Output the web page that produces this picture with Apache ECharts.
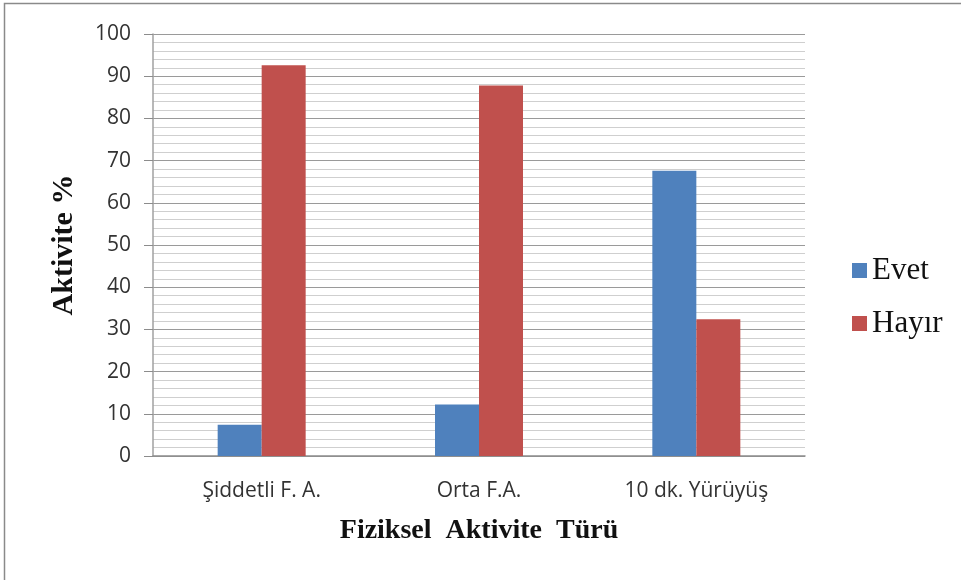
<!DOCTYPE html>
<html>
<head>
<meta charset="utf-8">
<script src="https://cdn.jsdelivr.net/npm/echarts@6/dist/echarts.min.js"></script>
<style>
  html, body { margin: 0; padding: 0; background: #fff; }
  #chart { width: 961px; height: 580px; }
</style>
</head>
<body>
<div id="chart"></div>
<script>
// Activity types and the share (%) answering yes / no
const categories = ['Şiddetli F. A.', 'Orta F.A.', '10 dk. Yürüyüş'];
const evetValues = [7.4, 12.2, 67.6];
const hayirValues = [92.6, 87.8, 32.4];
const yTicks = { min: 0, max: 100, interval: 10 };

const chart = echarts.init(document.getElementById('chart'), null, { renderer: 'canvas' });

const sansFont = '"Open Sans", "Liberation Sans", sans-serif';
const serifFont = '"Liberation Serif", "DejaVu Serif", serif';

chart.setOption({
  animation: false,
  backgroundColor: '#ffffff',
  graphic: [{
    type: 'rect',
    shape: { x: 4.5, y: 3.5, width: 1200, height: 1200 },
    style: { fill: 'none', stroke: '#8a8a8a', lineWidth: 1.5 },
    silent: true
  }],
  grid: { left: 153, right: 156, top: 34, bottom: 124, containLabel: false },
  legend: {
    orient: 'vertical',
    left: 847,
    top: 250,
    itemWidth: 15,
    itemHeight: 15,
    itemGap: 22,
    icon: 'rect',
    textStyle: { fontFamily: serifFont, fontSize: 31, color: '#111' },
    data: ['Evet', 'Hayır']
  },
  xAxis: {
    type: 'category',
    data: categories,
    name: 'Fiziksel  Aktivite  Türü',
    nameLocation: 'middle',
    nameGap: 61,
    nameTextStyle: { fontFamily: serifFont, fontSize: 28, fontWeight: 'bold', color: '#111' },
    axisLine: { show: true, lineStyle: { color: '#8c8c8c', width: 1.5 } },
    axisTick: { show: false },
    axisLabel: { margin: 25, fontFamily: sansFont, fontSize: 21, color: '#333' },
    splitLine: { show: false }
  },
  yAxis: {
    type: 'value',
    min: yTicks.min,
    max: yTicks.max,
    interval: yTicks.interval,
    name: 'Aktivite %',
    nameLocation: 'middle',
    nameGap: 74,
    nameRotate: 90,
    nameTextStyle: { fontFamily: serifFont, fontSize: 30, fontWeight: 'bold', color: '#111' },
    axisLine: { show: true, lineStyle: { color: '#a0a0a0', width: 1.5 } },
    axisTick: { show: true, inside: false, length: 9, lineStyle: { color: '#8c8c8c', width: 1 } },
    axisLabel: { margin: 22, fontFamily: sansFont, fontSize: 21, color: '#333' },
    splitLine: { show: true, lineStyle: { color: '#9a9a9a', width: 1.2 } },
    minorTick: { show: false, splitNumber: 5 },
    minorSplitLine: { show: true, lineStyle: { color: '#cfcfcf', width: 1.2 } }
  },
  series: [
    {
      name: 'Evet',
      type: 'bar',
      data: evetValues,
      barWidth: 44,
      barGap: '0%',
      itemStyle: { color: '#4F81BD' }
    },
    {
      name: 'Hayır',
      type: 'bar',
      data: hayirValues,
      barWidth: 44,
      barGap: '0%',
      itemStyle: { color: '#C0504D' }
    }
  ]
});
</script>
</body>
</html>
